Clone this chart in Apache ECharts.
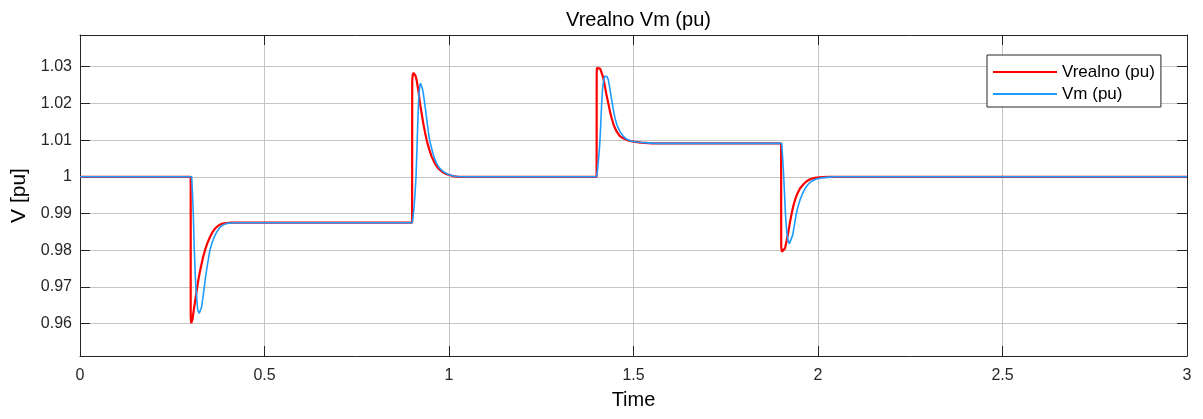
<!DOCTYPE html>
<html>
<head>
<meta charset="utf-8">
<title>Vrealno Vm (pu)</title>
<script src="https://cdn.jsdelivr.net/npm/echarts@6/dist/echarts.min.js"></script>
<style>
  html, body { margin: 0; padding: 0; background: #fff; }
  #chart { width: 1203px; height: 419px; }
</style>
</head>
<body>
<div id="chart"></div>
<script>
// Simulated bus voltage (true value) and measured voltage, in per unit.
const timeVrealno = [
  0, 0.3,
  0.3, 0.3005, 0.3015, 0.3027, 0.305, 0.308, 0.311, 0.316, 0.3206, 0.325, 0.3297, 0.334,
  0.3388, 0.345, 0.3523, 0.359, 0.3659, 0.375, 0.384, 0.395, 0.411, 0.9,
  0.9003, 0.9015, 0.9035, 0.906, 0.909, 0.9124, 0.917, 0.9214, 0.926, 0.9304, 0.935,
  0.9395, 0.946, 0.953, 0.962, 0.971, 0.982, 0.9937, 1.01, 1.025, 1.4,
  1.4003, 1.401, 1.4028, 1.406, 1.41, 1.4137, 1.418, 1.4228, 1.427, 1.4318, 1.436,
  1.441, 1.447, 1.4545, 1.463, 1.4725, 1.485, 1.4995, 1.52, 1.55, 1.9,
  1.9003, 1.902, 1.9045, 1.907, 1.9106, 1.915, 1.9196, 1.924, 1.9286, 1.933, 1.9377,
  1.944, 1.9512, 1.96, 1.9693, 1.98, 1.9919, 2.01, 2.03, 3
];
const vVrealno = [
  1.0, 1.0,
  0.9625, 0.9612, 0.9601, 0.96, 0.9612, 0.9635, 0.9655, 0.9688, 0.9718, 0.9742, 0.9764, 0.9783,
  0.98, 0.9819, 0.9836, 0.9849, 0.9859, 0.9867, 0.9872, 0.9874, 0.9875, 0.9875,
  1.026, 1.0277, 1.0283, 1.0284, 1.0276, 1.0263, 1.0235, 1.02, 1.0172, 1.0145, 1.0121,
  1.01, 1.0076, 1.0055, 1.0036, 1.0023, 1.0013, 1.0007, 1.0002, 1.0, 1.0,
  1.0285, 1.0297, 1.03, 1.0298, 1.0294, 1.0289, 1.027, 1.0245, 1.0222, 1.02, 1.0179,
  1.0159, 1.0139, 1.0123, 1.0111, 1.0105, 1.0099, 1.0096, 1.0093, 1.0091, 1.0091,
  0.981, 0.9796, 0.9794, 0.9797, 0.9805, 0.9826, 0.985, 0.9876, 0.99, 0.992, 0.9937,
  0.9954, 0.9968, 0.9979, 0.9988, 0.9994, 0.9997, 0.9999, 1.0, 1.0
];

const timeVm = [
  0, 0.3027, 0.305, 0.307, 0.3098, 0.312, 0.314, 0.317, 0.319, 0.3233, 0.3265, 0.3297,
  0.333, 0.337, 0.341, 0.346, 0.352, 0.358, 0.366, 0.372, 0.379, 0.388, 0.3975, 0.42, 0.9,
  0.902, 0.905, 0.908, 0.9106, 0.913, 0.915, 0.917, 0.9187, 0.921, 0.923, 0.9255, 0.928,
  0.9304, 0.9335, 0.9368, 0.94, 0.9439, 0.948, 0.953, 0.959, 0.9665, 0.975, 0.9846, 0.997,
  1.0117, 1.03, 1.4,
  1.402, 1.405, 1.4075, 1.4092, 1.4115, 1.4137, 1.416, 1.419, 1.422, 1.4246, 1.428, 1.4318,
  1.436, 1.441, 1.445, 1.45, 1.456, 1.4634, 1.472, 1.4815, 1.495, 1.5086, 1.53, 1.56, 1.9016,
  1.904, 1.9071, 1.9095, 1.9117, 1.914, 1.9163, 1.919, 1.9224, 1.926, 1.9314, 1.936, 1.9405,
  1.9455, 1.9512, 1.958, 1.9648, 1.973, 1.9828, 1.995, 2.0099, 2.03, 2.046, 3
];
const vVm = [
  1.0, 1.0, 0.995, 0.99, 0.98, 0.974, 0.97, 0.966, 0.9637, 0.9628, 0.9633, 0.9646,
  0.967, 0.97, 0.9733, 0.9764, 0.98, 0.9821, 0.9841, 0.9852, 0.9862, 0.9869, 0.9873, 0.9875, 0.9875,
  0.9885, 0.9915, 0.9955, 1.0, 1.007, 1.0136, 1.019, 1.0227, 1.0248, 1.0255, 1.0251, 1.024,
  1.0227, 1.0205, 1.018, 1.0153, 1.0123, 1.0098, 1.0077, 1.0055, 1.0036, 1.0023, 1.0014, 1.0007,
  1.0002, 1.0, 1.0,
  1.0015, 1.0045, 1.0075, 1.01, 1.015, 1.02, 1.0238, 1.0262, 1.0274, 1.0277, 1.0273, 1.0264,
  1.024, 1.0209, 1.0185, 1.0159, 1.0139, 1.0123, 1.0111, 1.0102, 1.0097, 1.0095, 1.0093, 1.0091, 1.0091,
  1.0055, 1.0, 0.995, 0.99, 0.9866, 0.9841, 0.9826, 0.9818, 0.9823, 0.9841, 0.9868, 0.9896,
  0.9918, 0.9937, 0.9954, 0.9968, 0.9979, 0.9988, 0.9994, 0.9997, 0.9999, 1.0, 1.0
];

const seriesNames = ['Vrealno (pu)', 'Vm (pu)'];
const yTicks = [0.96, 0.97, 0.98, 0.99, 1, 1.01, 1.02, 1.03];
const yLimits = [0.95117, 1.03864];
const xLimits = [0, 3];
const xStep = 0.5;

const zip = (ts, vs) => ts.map((t, i) => [t, vs[i]]);

const FONT = '"Liberation Sans", Arial, Helvetica, sans-serif';
const AXIS_COLOR = '#262626';
const GRID_COLOR = '#c4c4c4';

const chart = echarts.init(document.getElementById('chart'), null, { renderer: 'canvas' });

const hiddenAxisParts = {
  axisLabel: { show: false },
  splitLine: { show: false }
};

chart.setOption({
  animation: false,
  backgroundColor: '#ffffff',
  textStyle: { fontFamily: FONT },
  title: {
    text: 'Vrealno Vm (pu)',
    left: 633.5,
    top: 5,
    textAlign: 'center',
    textStyle: { fontFamily: FONT, fontSize: 20, fontWeight: 'normal', color: '#000' }
  },
  legend: {
    data: seriesNames,
    orient: 'vertical',
    left: 987,
    top: 55,
    icon: 'rect',
    itemWidth: 64,
    itemHeight: 2,
    itemGap: 2,
    padding: [7, 6, 3, 6],
    backgroundColor: '#ffffff',
    borderColor: AXIS_COLOR,
    borderWidth: 1,
    selectedMode: false,
    textStyle: { fontFamily: FONT, fontSize: 17, lineHeight: 20, color: '#000' }
  },
  grid: { left: 80, right: 16, top: 35, bottom: 63, containLabel: false },
  xAxis: [{
    type: 'value',
    min: xLimits[0], max: xLimits[1], interval: xStep,
    position: 'bottom',
    axisLine: { show: true, lineStyle: { color: AXIS_COLOR, width: 1 } },
    axisTick: { show: true, inside: true, length: 10, lineStyle: { color: AXIS_COLOR } },
    axisLabel: { fontFamily: FONT, fontSize: 16, color: AXIS_COLOR, margin: 12 },
    splitLine: { show: true, lineStyle: { color: GRID_COLOR, width: 1 } },
    name: 'Time',
    nameLocation: 'middle',
    nameGap: 34,
    nameTextStyle: { fontFamily: FONT, fontSize: 20, color: '#000' }
  }, Object.assign({
    type: 'value',
    min: xLimits[0], max: xLimits[1], interval: xStep,
    position: 'top',
    axisLine: { show: true, onZero: false, lineStyle: { color: AXIS_COLOR, width: 1 } },
    axisTick: { show: true, inside: true, length: 10, lineStyle: { color: AXIS_COLOR } }
  }, hiddenAxisParts)],
  yAxis: [{
    type: 'value',
    min: yLimits[0], max: yLimits[1],
    position: 'left',
    axisLine: { show: true, onZero: false, lineStyle: { color: AXIS_COLOR, width: 1 } },
    axisTick: { show: true, inside: true, length: 10, customValues: yTicks, lineStyle: { color: AXIS_COLOR } },
    axisLabel: {
      customValues: yTicks,
      fontFamily: FONT, fontSize: 16, color: AXIS_COLOR, margin: 8,
      formatter: v => String(Math.round(v * 100) / 100)
    },
    splitLine: { show: true, lineStyle: { color: GRID_COLOR, width: 1 } },
    name: 'V [pu]',
    nameLocation: 'middle',
    nameGap: 48,
    nameTextStyle: { fontFamily: FONT, fontSize: 21, color: '#000' }
  }, Object.assign({
    type: 'value',
    min: yLimits[0], max: yLimits[1],
    position: 'right',
    axisLine: { show: true, onZero: false, lineStyle: { color: AXIS_COLOR, width: 1 } },
    axisTick: { show: true, inside: true, length: 10, customValues: yTicks, lineStyle: { color: AXIS_COLOR } }
  }, hiddenAxisParts)],
  series: [{
    name: seriesNames[0],
    type: 'line',
    xAxisIndex: 0, yAxisIndex: 0,
    data: zip(timeVrealno, vVrealno),
    showSymbol: false,
    symbol: 'none',
    color: '#ff0000',
    lineStyle: { color: '#ff0000', width: 2.2 },
    z: 2
  }, {
    name: seriesNames[1],
    type: 'line',
    xAxisIndex: 0, yAxisIndex: 0,
    data: zip(timeVm, vVm),
    showSymbol: false,
    symbol: 'none',
    color: '#1f9bff',
    lineStyle: { color: '#1f9bff', width: 1.6 },
    z: 3
  }]
});
</script>
</body>
</html>
